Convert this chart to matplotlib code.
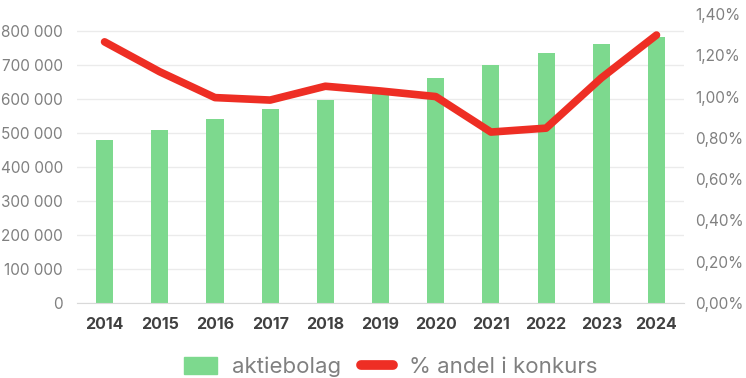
import matplotlib.pyplot as plt
from matplotlib.ticker import FuncFormatter
from matplotlib.lines import Line2D
from matplotlib.patches import Patch

plt.rcParams['font.family'] = ['Inter', 'DejaVu Sans']

years = ['2014', '2015', '2016', '2017', '2018', '2019', '2020', '2021', '2022', '2023', '2024']
aktiebolag = [479000, 509000, 541000, 571000, 597000, 628000, 662000, 700000, 735000, 762000, 782000]
andel_konkurs = [1.265, 1.12, 0.995, 0.983, 1.05, 1.027, 1.0, 0.828, 0.847, 1.09, 1.298]

bar_color = '#7dd98e'
line_color = '#ee2e24'
tick_grey = '#808080'

fig = plt.figure(figsize=(7.46, 3.78), dpi=100)
ax = fig.add_axes([0.1032, 0.1984, 0.8138, 0.7646])
ax2 = ax.twinx()

x = range(len(years))
ax.bar(x, aktiebolag, width=0.31, color=bar_color, zorder=2)
ax2.plot(x, andel_konkurs, color=line_color, linewidth=5.5, solid_capstyle='round',
         solid_joinstyle='round', zorder=3)

ax.set_xlim(-0.5, len(years) - 0.5)
ax.set_ylim(0, 850000)
ax.set_yticks(range(0, 800001, 100000))
ax.yaxis.set_major_formatter(FuncFormatter(lambda v, p: f'{int(v):,}'.replace(',', ' ')))
ax2.set_ylim(0, 1.4)
ax2.set_yticks([0, 0.2, 0.4, 0.6, 0.8, 1.0, 1.2, 1.4])
ax2.yaxis.set_major_formatter(FuncFormatter(lambda v, p: f'{v:.2f}'.replace('.', ',') + '%'))

ax.set_xticks(list(x))
ax.set_xticklabels(years, fontsize=11.5, fontweight='bold', color='#404040')
ax.grid(axis='y', color='#ebebeb', linewidth=1, zorder=0)
ax.set_axisbelow(True)

for a in (ax, ax2):
    for s in a.spines.values():
        s.set_visible(False)
    a.tick_params(length=0)
ax.spines['bottom'].set_visible(True)
ax.spines['bottom'].set_color('#d9d9d9')
ax.tick_params(axis='y', labelsize=11, labelcolor=tick_grey, pad=10)
ax.tick_params(axis='x', pad=10)
ax2.tick_params(axis='y', labelsize=11, labelcolor=tick_grey, pad=8)

ax2.set_zorder(ax.get_zorder() + 1)
ax2.patch.set_visible(False)

handles = [Patch(color=bar_color, label='aktiebolag'),
           Line2D([0], [0], color=line_color, linewidth=7, solid_capstyle='round',
                  label='% andel i konkurs')]
leg = fig.legend(handles=handles, loc='center', bbox_to_anchor=(0.524, 0.03), ncol=2,
                 frameon=False, fontsize=16, handlelength=1.45, handleheight=0.8,
                 columnspacing=0.9, handletextpad=0.7)
for t in leg.get_texts():
    t.set_color(tick_grey)

fig.savefig('out.png', dpi=100)
